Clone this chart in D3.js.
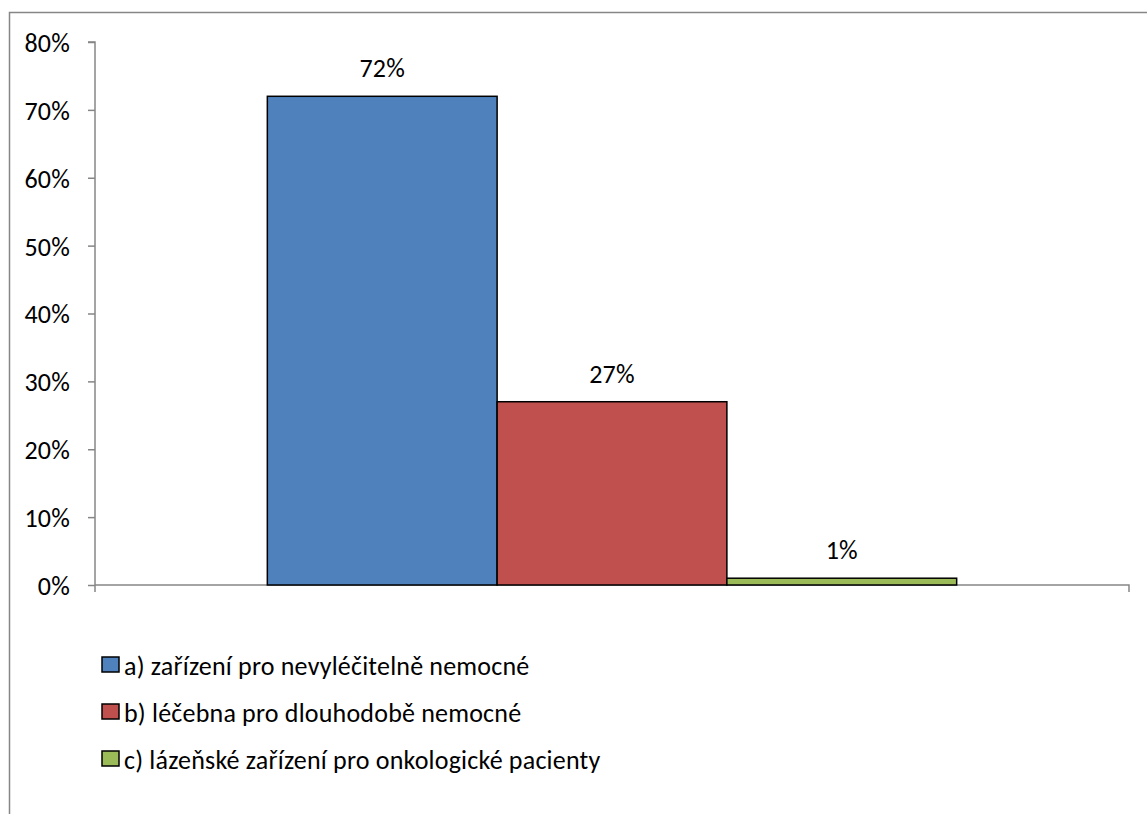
<!DOCTYPE html>
<html>
<head>
<meta charset="utf-8">
<script src="https://cdn.jsdelivr.net/npm/d3@7"></script>
<style>
  body { margin: 0; background: #fff; }
  svg text { font-family: Carlito, Lato, "Open Sans", sans-serif; fill: #000; letter-spacing: 0.2px; }
</style>
</head>
<body>
<div id="chart"></div>
<script>
// ========== Data ==========
const categories = ['odpověď'];
const seriesNames = [
  'a) zařízení pro nevyléčitelně nemocné',
  'b) léčebna pro dlouhodobě nemocné',
  'c) lázeňské zařízení pro onkologické pacienty'
];
const seriesValues = [0.72, 0.27, 0.01];
const seriesColors = ['#4F81BD', '#C0504D', '#9BBB59'];
const yTicks = [0, 0.1, 0.2, 0.3, 0.4, 0.5, 0.6, 0.7, 0.8];

// ========== Config ==========
const width = 1147, height = 814;
const plot = { left: 95, right: 1129, top: 42, bottom: 585 };
const fontSize = 26;

const svg = d3.select('#chart')
  .append('svg')
  .attr('width', width)
  .attr('height', height);

// Outer chart border (right and bottom fall outside the picture)
svg.append('rect')
  .attr('x', 9.5)
  .attr('y', 12.5)
  .attr('width', width + 20)
  .attr('height', height + 20)
  .attr('fill', 'none')
  .attr('stroke', '#868686')
  .attr('stroke-width', 1.5);

// ========== Scales ==========
const y = d3.scaleLinear()
  .domain([0, 0.8])
  .range([plot.bottom, plot.top]);

const x0 = d3.scaleBand()
  .domain(categories)
  .range([plot.left, plot.right])
  .paddingInner(0)
  .paddingOuter(0.25);

const x1 = d3.scaleBand()
  .domain(seriesNames)
  .range([0, x0.bandwidth()])
  .padding(0);

const fmt = d3.format('.0%');

// ========== Axes ==========
const yAxis = svg.append('g')
  .attr('transform', `translate(${plot.left},0)`)
  .call(d3.axisLeft(y).tickValues(yTicks).tickFormat(fmt).tickSize(7).tickPadding(18));

yAxis.select('.domain').attr('stroke', '#868686').attr('stroke-width', 1.5)
  .attr('d', `M-7,${plot.top}H0V${plot.bottom + 7}`);
yAxis.selectAll('.tick line').attr('stroke', '#868686').attr('stroke-width', 1.5);
yAxis.selectAll('.tick text').attr('font-size', fontSize).attr('dy', '0.36em');

const xAxis = svg.append('g')
  .attr('transform', `translate(0,${plot.bottom})`);
xAxis.append('path')
  .attr('d', `M${plot.left},0H${plot.right}V7`)
  .attr('fill', 'none')
  .attr('stroke', '#868686')
  .attr('stroke-width', 1.5);

// ========== Bars ==========
const group = svg.append('g')
  .attr('transform', `translate(${x0(categories[0])},0)`);

group.selectAll('rect')
  .data(seriesValues)
  .join('rect')
  .attr('x', (d, i) => x1(seriesNames[i]))
  .attr('y', d => y(d))
  .attr('width', x1.bandwidth())
  .attr('height', d => y(0) - y(d))
  .attr('fill', (d, i) => seriesColors[i])
  .attr('stroke', '#000')
  .attr('stroke-width', 1.5);

group.selectAll('text.value')
  .data(seriesValues)
  .join('text')
  .attr('class', 'value')
  .attr('x', (d, i) => x1(seriesNames[i]) + x1.bandwidth() / 2)
  .attr('y', d => y(d) - 19)
  .attr('text-anchor', 'middle')
  .attr('font-size', fontSize)
  .text(d => fmt(d));

// ========== Legend ==========
const legend = svg.append('g')
  .attr('transform', 'translate(102,675)');

const rows = legend.selectAll('g')
  .data(seriesNames)
  .join('g')
  .attr('transform', (d, i) => `translate(0,${i * 47})`);

rows.append('rect')
  .attr('x', 0)
  .attr('y', -18)
  .attr('width', 17)
  .attr('height', 15)
  .attr('fill', (d, i) => seriesColors[i])
  .attr('stroke', '#000')
  .attr('stroke-width', 1.5);

rows.append('text')
  .attr('x', 22)
  .attr('y', 0)
  .attr('font-size', fontSize)
  .text(d => d);
</script>
</body>
</html>
